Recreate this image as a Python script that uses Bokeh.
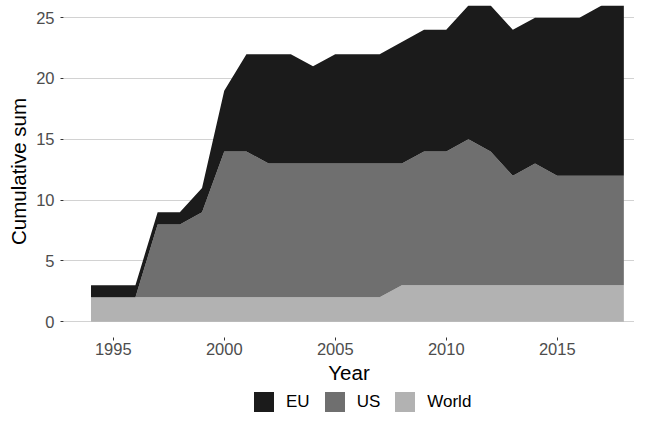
from bokeh.plotting import figure
from bokeh.layouts import column
from bokeh.models import ColumnDataSource, FixedTicker, Range1d, Legend, LegendItem
from bokeh.embed import file_html
from bokeh.resources import INLINE

years = [1994, 1995, 1996, 1997, 1998, 1999, 2000, 2001, 2002, 2003, 2004, 2005, 2006,
         2007, 2008, 2009, 2010, 2011, 2012, 2013, 2014, 2015, 2016, 2017, 2018]
world = [2, 2, 2, 2, 2, 2, 2, 2, 2, 2, 2, 2, 2, 2, 3, 3, 3, 3, 3, 3, 3, 3, 3, 3, 3]
us = [0, 0, 0, 6, 6, 7, 12, 12, 11, 11, 11, 11, 11, 11, 10, 11, 11, 12, 11, 9, 10, 9, 9, 9, 9]
eu = [1, 1, 1, 1, 1, 2, 5, 8, 9, 9, 8, 9, 9, 9, 10, 10, 10, 11, 12, 12, 12, 13, 13, 14, 14]

series_names = ["World", "US", "EU"]
series_colors = ["#b2b2b2", "#6f6f6f", "#1b1b1b"]
legend_order = ["EU", "US", "World"]

x_ticks = [1995, 2000, 2005, 2010, 2015]
y_ticks = [0, 5, 10, 15, 20, 25]

source = ColumnDataSource(data=dict(year=years, World=world, US=us, EU=eu))

FONT = "Liberation Sans"

p = figure(width=634, height=390, output_backend="svg", toolbar_location=None,
           x_range=Range1d(1992.76, 2018.48), y_range=Range1d(-1.3, 26.0),
           min_border_left=63, min_border_right=0, min_border_top=5, min_border_bottom=53)

p.varea_stack(series_names, x="year", color=series_colors, source=source)

p.outline_line_color = None
p.background_fill_color = "white"
p.border_fill_color = "white"

p.xgrid.grid_line_color = None
p.ygrid.grid_line_color = "#d2d2d2"
p.ygrid.grid_line_width = 1.2
p.ygrid.level = "underlay"

p.xaxis.ticker = FixedTicker(ticks=x_ticks)
p.yaxis.ticker = FixedTicker(ticks=y_ticks)

for ax in (p.xaxis[0], p.yaxis[0]):
    ax.axis_line_color = None
    ax.major_tick_line_color = "#333333"
    ax.major_tick_in = 0
    ax.major_tick_out = 3
    ax.minor_tick_line_color = None
    ax.major_label_text_font = FONT
    ax.major_label_text_font_size = "16.5px"
    ax.major_label_text_color = "#4d4d4d"
    ax.axis_label_text_font = FONT
    ax.axis_label_text_font_size = "20.5px"
    ax.axis_label_text_font_style = "normal"
    ax.axis_label_text_color = "black"

p.xaxis.axis_label = "Year"
p.yaxis.axis_label = "Cumulative sum"
p.xaxis.major_label_standoff = 2
p.xaxis.axis_label_standoff = 3
p.yaxis.major_label_standoff = 6
p.yaxis.axis_label_standoff = 3

# legend strip (its areas lie outside its own visible range, only the legend shows)
lg = figure(width=634, height=22, output_backend="svg", toolbar_location=None,
            x_range=Range1d(1992.76, 2018.48), y_range=Range1d(-3, -2),
            x_axis_location=None, y_axis_location=None,
            min_border_left=0, min_border_right=0, min_border_top=0, min_border_bottom=0)
lg.outline_line_color = None
lg.xgrid.visible = False
lg.ygrid.visible = False
lg.background_fill_color = "white"
lg.border_fill_color = "white"

lg_renderers = lg.varea_stack(series_names, x="year", color=series_colors, source=source)
lg_map = dict(zip(series_names, lg_renderers))
items = [LegendItem(label=name, renderers=[lg_map[name]]) for name in legend_order]

legend = Legend(items=items, orientation="horizontal", location=(188, -2),
                glyph_width=25, glyph_height=25, label_standoff=10, spacing=12,
                padding=0, margin=0, label_text_font=FONT, label_text_font_size="17px",
                label_text_color="black", border_line_color=None,
                background_fill_alpha=0, label_height=25)
lg.add_layout(legend, "center")

layout = column(p, lg, spacing=0)

open("out.html", "w").write(file_html(layout, INLINE))
